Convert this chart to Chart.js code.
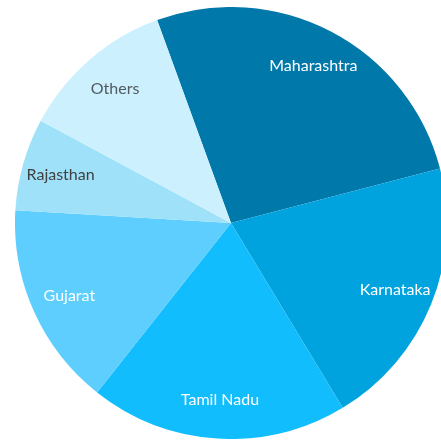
<!DOCTYPE html>
<html>
<head>
<meta charset="utf-8">
<script src="https://cdn.jsdelivr.net/npm/chart.js@4"></script>
<style>
  html, body { margin: 0; padding: 0; background: #fff; overflow: hidden; width: 441px; height: 440px; }
  #wrap { position: absolute; left: 15px; top: 7px; width: 432px; height: 432px; }
</style>
</head>
<body>
<div id="wrap"><canvas id="pieChart" width="432" height="432"></canvas></div>
<script>
const labels = ['Maharashtra', 'Karnataka', 'Tamil Nadu', 'Gujarat', 'Rajasthan', 'Others'];
const data = [26.5, 20.4, 19.3, 15.3, 6.9, 11.6];

const backgroundColors = ['#0078aa', '#00a3de', '#12bdfe', '#5ecefe', '#a0e1fa', '#cdf0fe'];
const labelColors = ['#ffffff', '#ffffff', '#ffffff', '#ffffff', '#404040', '#505a60'];

// draw slice names inside each arc
const sliceLabels = {
    id: 'sliceLabels',
    afterDatasetsDraw(chart) {
        const ctx = chart.ctx;
        const meta = chart.getDatasetMeta(0);
        ctx.save();
        ctx.font = '16px Lato';
        ctx.textAlign = 'center';
        ctx.textBaseline = 'middle';
        meta.data.forEach((arc, i) => {
            const mid = (arc.startAngle + arc.endAngle) / 2;
            const r = arc.outerRadius * 0.82;
            ctx.fillStyle = labelColors[i];
            ctx.fillText(labels[i], arc.x + Math.cos(mid) * r, arc.y + Math.sin(mid) * r);
        });
        ctx.restore();
    }
};

new Chart(document.getElementById('pieChart').getContext('2d'), {
    type: 'pie',
    data: {
        labels: labels,
        datasets: [{
            data: data,
            backgroundColor: backgroundColors,
            borderWidth: 0
        }]
    },
    options: {
        responsive: false,
        animation: false,
        rotation: -20,
        layout: { padding: 0 },
        plugins: {
            legend: { display: false },
            tooltip: { enabled: false }
        }
    },
    plugins: [sliceLabels]
});
</script>
</body>
</html>
